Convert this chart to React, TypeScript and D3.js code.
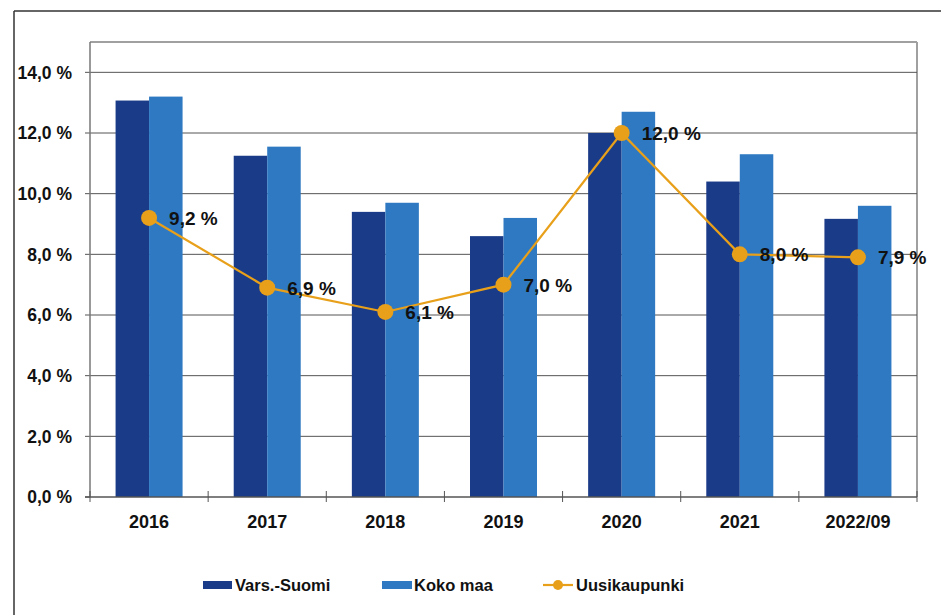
import React from "react";
import * as d3 from "d3";

const categories = ["2016", "2017", "2018", "2019", "2020", "2021", "2022/09"];
const varsSuomi = [13.07, 11.25, 9.4, 8.6, 12.0, 10.4, 9.17];
const kokoMaa = [13.2, 11.55, 9.7, 9.2, 12.7, 11.3, 9.6];
const uusikaupunki = [9.2, 6.9, 6.1, 7.0, 12.0, 8.0, 7.9];
const yTicks = [0, 2, 4, 6, 8, 10, 12, 14];
const legendLabels = ["Vars.-Suomi", "Koko maa", "Uusikaupunki"];

const W = 941;
const H = 615;
const left = 90;
const right = 917;
const top = 42;
const bottom = 497;

const DARK = "#1A3B88";
const LIGHT = "#2E79C2";
const ORANGE = "#E8A01A";
const FONT = "'Liberation Sans', Arial, sans-serif";

const fmt = (v: number) => v.toFixed(1).replace(".", ",") + " %";

export default function App() {
  const x = d3.scaleBand<string>().domain(categories).range([left, right]);
  const y = d3.scaleLinear().domain([0, 15]).range([bottom, top]);
  const bw = 33.5;
  const line = d3
    .line<number>()
    .x((_, i) => (x(categories[i]) as number) + x.bandwidth() / 2)
    .y((d) => y(d));

  return (
    <svg
      width={W}
      height={H}
      style={{ position: "absolute", left: 0, top: 0, background: "#fff" }}
      fontFamily={FONT}
    >
      {/* outer frame */}
      <line x1={14} y1={11} x2={W} y2={11} stroke="#333" strokeWidth={1.5} />
      <line x1={14} y1={11} x2={14} y2={H} stroke="#333" strokeWidth={1.5} />

      {/* plot frame */}
      <line x1={left} y1={top} x2={right} y2={top} stroke="#a0a0a0" strokeWidth={2} />
      <line x1={right} y1={top} x2={right} y2={bottom} stroke="#a0a0a0" strokeWidth={2} />

      {/* gridlines */}
      {yTicks.map((t) => (
        <g key={t}>
          {t > 0 && (
            <line x1={left} x2={right} y1={y(t)} y2={y(t)} stroke="#555" strokeWidth={1} />
          )}
          <line x1={left - 5} x2={left} y1={y(t)} y2={y(t)} stroke="#555" strokeWidth={1} />
          <text
            x={72}
            y={y(t)}
            dy="0.36em"
            textAnchor="end"
            fontSize={17.5}
            fontWeight="bold"
            fill="#111"
          >
            {fmt(t)}
          </text>
        </g>
      ))}

      {/* bars */}
      {categories.map((c, i) => {
        const cx = (x(c) as number) + x.bandwidth() / 2;
        return (
          <g key={c}>
            <rect x={cx - bw} y={y(varsSuomi[i])} width={bw} height={bottom - y(varsSuomi[i])} fill={DARK} />
            <rect x={cx} y={y(kokoMaa[i])} width={bw} height={bottom - y(kokoMaa[i])} fill={LIGHT} />
            <text
              x={cx}
              y={528}
              textAnchor="middle"
              fontSize={18}
              fontWeight="bold"
              fill="#111"
            >
              {c}
            </text>
          </g>
        );
      })}

      {/* axes */}
      <line x1={left} y1={top} x2={left} y2={bottom} stroke="#777" strokeWidth={1.5} />
      <line x1={left - 5} y1={bottom} x2={right} y2={bottom} stroke="#555" strokeWidth={1.5} />
      {categories.concat(["end"]).map((_, i) => {
        const xx = left + i * x.bandwidth();
        return <line key={i} x1={xx} x2={xx} y1={bottom - 6} y2={bottom + 5} stroke="#555" strokeWidth={1} />;
      })}

      {/* line series */}
      <path d={line(uusikaupunki) as string} fill="none" stroke={ORANGE} strokeWidth={2.2} />
      {uusikaupunki.map((v, i) => {
        const cx = (x(categories[i]) as number) + x.bandwidth() / 2;
        return (
          <g key={i}>
            <circle cx={cx} cy={y(v)} r={8} fill={ORANGE} />
            <text
              x={cx + 20}
              y={y(v) + 7}
              fontSize={19}
              fontWeight="bold"
              fill="#111"
            >
              {fmt(v)}
            </text>
          </g>
        );
      })}

      {/* legend */}
      <rect x={203} y={581} width={29} height={8} fill={DARK} />
      <text x={235} y={591} fontSize={16.5} fontWeight="bold" fill="#111">
        {legendLabels[0]}
      </text>
      <rect x={382} y={581} width={30} height={8} fill={LIGHT} />
      <text x={414} y={591} fontSize={16.5} fontWeight="bold" fill="#111">
        {legendLabels[1]}
      </text>
      <line x1={543} x2={573} y1={585} y2={585} stroke={ORANGE} strokeWidth={2.2} />
      <circle cx={558} cy={585} r={5} fill={ORANGE} />
      <text x={576} y={591} fontSize={16.5} fontWeight="bold" fill="#111">
        {legendLabels[2]}
      </text>
    </svg>
  );
}
